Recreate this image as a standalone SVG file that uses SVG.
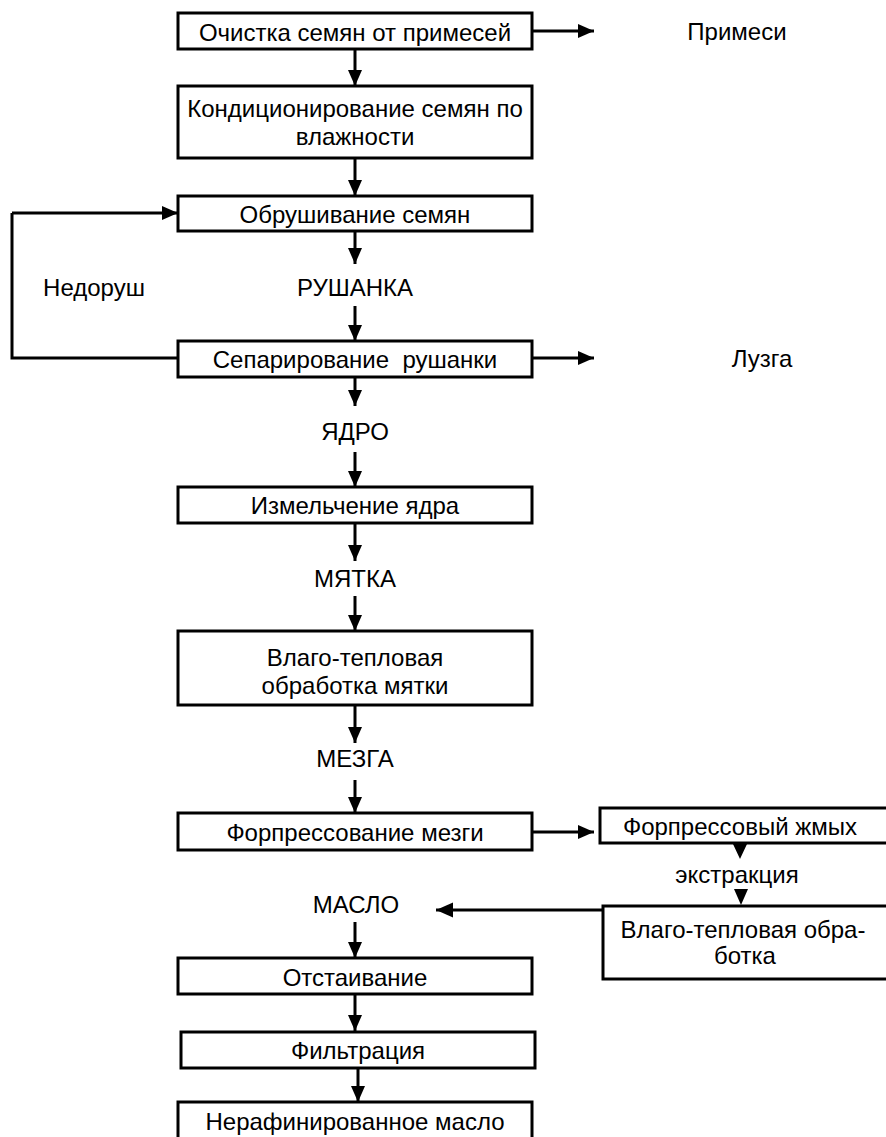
<svg xmlns="http://www.w3.org/2000/svg" width="886" height="1137" viewBox="0 0 886 1137">
<defs>
<marker id="ah" viewBox="0 0 16 14" refX="16" refY="7" markerWidth="16" markerHeight="14" markerUnits="userSpaceOnUse" orient="auto">
<path d="M0,0 L16,7 L0,14 Z" fill="#000"/>
</marker>
<marker id="ahl" viewBox="0 0 16 14" refX="16" refY="7" markerWidth="17" markerHeight="17" markerUnits="userSpaceOnUse" orient="auto">
<path d="M0,0 L16,7 L0,14 Z" fill="#000"/>
</marker>
<style>
.box{fill:#fff;stroke:#000;stroke-width:3}
.t{font-family:"Liberation Sans",Arial,sans-serif;font-size:24px;fill:#000;text-anchor:middle;dominant-baseline:central}
.c{stroke:#000;stroke-width:3;fill:none}
.a{stroke:#000;stroke-width:3;fill:none;marker-end:url(#ah)}
.al{stroke:#000;stroke-width:3;fill:none;marker-end:url(#ahl)}
.tri{fill:#000}
</style>
</defs>
<rect width="886" height="1137" fill="#fff"/>
<g id="connectors">
<path class="a" d="M532,31 H594"/>
<path class="a" d="M355,49 V86"/>
<path class="a" d="M355,158 V196"/>
<path class="c" d="M178,358 H12 V213"/>
<path class="a" d="M12,213 H178"/>
<path class="a" d="M355,231 V264"/>
<path class="a" d="M355,306 V341"/>
<path class="a" d="M532,358 H594"/>
<path class="a" d="M355,377 V406"/>
<path class="a" d="M355,452 V487"/>
<path class="a" d="M355,523 V561"/>
<path class="a" d="M355,596 V631"/>
<path class="a" d="M355,705 V743"/>
<path class="a" d="M355,780 V813"/>
<path class="a" d="M532,832 H594"/>
<path class="al" d="M603,910 H436"/>
<path class="a" d="M355,922 V958"/>
<path class="a" d="M355,994 V1031"/>
<path class="a" d="M358,1068 V1102"/>
<path class="tri" d="M733,844 L747,844 L740,859 Z"/>
<path class="tri" d="M734,889 L748,889 L741,905 Z"/>
</g>
<g id="n1"><rect class="box" x="178" y="13" width="354" height="36"/><text class="t" x="355" y="32">Очистка семян от примесей</text></g>
<g id="n_primesi"><text class="t" x="737" y="31">Примеси</text></g>
<g id="n2"><rect class="box" x="178" y="86" width="354" height="72"/><text class="t" x="355" y="108">Кондиционирование семян по</text><text class="t" x="355" y="136">влажности</text></g>
<g id="n3"><rect class="box" x="178" y="196" width="354" height="35"/><text class="t" x="355" y="214">Обрушивание семян</text></g>
<g id="n_nedorush"><text class="t" x="94" y="287">Недоруш</text></g>
<g id="n_rushanka"><text class="t" x="355" y="287">РУШАНКА</text></g>
<g id="n4"><rect class="box" x="178" y="341" width="354" height="36"/><text class="t" x="355" y="359" xml:space="preserve">Сепарирование  рушанки</text></g>
<g id="n_luzga"><text class="t" x="762" y="358">Лузга</text></g>
<g id="n_yadro"><text class="t" x="355" y="431">ЯДРО</text></g>
<g id="n5"><rect class="box" x="178" y="487" width="354" height="36"/><text class="t" x="355" y="505">Измельчение ядра</text></g>
<g id="n_myatka"><text class="t" x="355" y="578">МЯТКА</text></g>
<g id="n6"><rect class="box" x="178" y="631" width="354" height="74"/><text class="t" x="355" y="657">Влаго-тепловая</text><text class="t" x="355" y="685">обработка мятки</text></g>
<g id="n_mezga"><text class="t" x="355" y="758">МЕЗГА</text></g>
<g id="n7"><rect class="box" x="178" y="813" width="354" height="37"/><text class="t" x="355" y="832">Форпрессование мезги</text></g>
<g id="n8"><rect class="box" x="600" y="808" width="300" height="35"/><text class="t" x="740" y="826">Форпрессовый жмых</text></g>
<g id="n_extr"><text class="t" x="737" y="874">экстракция</text></g>
<g id="n9"><rect class="box" x="603" y="906" width="300" height="73"/><text class="t" x="743" y="929">Влаго-тепловая обра-</text><text class="t" x="745" y="955">ботка</text></g>
<g id="n_maslo"><text class="t" x="356" y="904">МАСЛО</text></g>
<g id="n10"><rect class="box" x="178" y="958" width="354" height="36"/><text class="t" x="355" y="977">Отстаивание</text></g>
<g id="n11"><rect class="box" x="181" y="1032" width="354" height="36"/><text class="t" x="358" y="1050">Фильтрация</text></g>
<g id="n12"><rect class="box" x="178" y="1102" width="354" height="40"/><text class="t" x="355" y="1121">Нерафинированное масло</text></g>
</svg>
